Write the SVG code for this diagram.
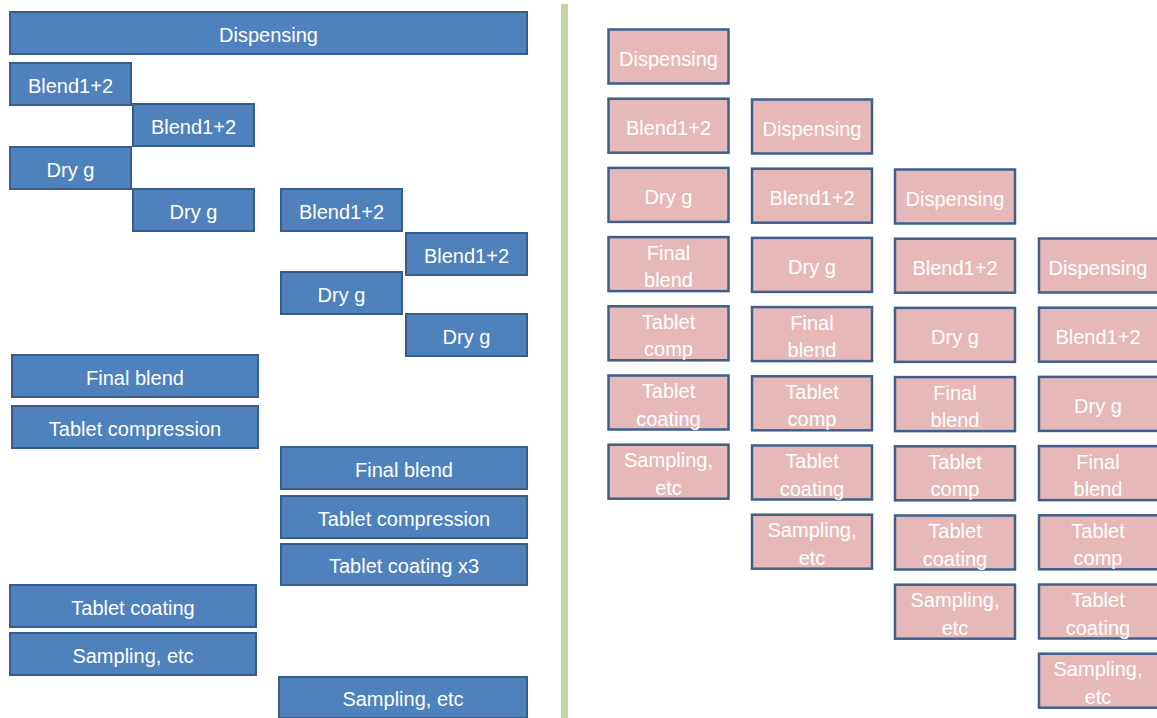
<svg xmlns="http://www.w3.org/2000/svg" width="1157" height="718" viewBox="0 0 1157 718">
<style>
.b{fill:#4F81BD;stroke:#385D8A;stroke-width:2}
.p{fill:#E6B9B8;stroke:#3C5F8E;stroke-width:2.5}
text{font-family:"Liberation Sans",Arial,sans-serif;font-size:20px;fill:#FFFFFF;text-anchor:middle}
</style>
<rect width="1157" height="718" fill="#FFFFFF"/>
<rect x="561" y="4" width="7" height="714" fill="#C3D69B"/>
<g id="left">
<g id="l1"><rect class="b" x="10" y="12" width="517" height="42"/><text x="268.5" y="41.5">Dispensing</text></g>
<g id="l2"><rect class="b" x="10" y="63" width="121" height="42"/><text x="70.5" y="92.5">Blend1+2</text></g>
<g id="l3"><rect class="b" x="133" y="104" width="121" height="42"/><text x="193.5" y="133.5">Blend1+2</text></g>
<g id="l4"><rect class="b" x="10" y="147" width="121" height="42"/><text x="70.5" y="176.5">Dry g</text></g>
<g id="l5"><rect class="b" x="133" y="189" width="121" height="42"/><text x="193.5" y="218.5">Dry g</text></g>
<g id="l6"><rect class="b" x="281" y="189" width="121" height="42"/><text x="341.5" y="218.5">Blend1+2</text></g>
<g id="l7"><rect class="b" x="406" y="233" width="121" height="42"/><text x="466.5" y="262.5">Blend1+2</text></g>
<g id="l8"><rect class="b" x="281" y="272" width="121" height="42"/><text x="341.5" y="301.5">Dry g</text></g>
<g id="l9"><rect class="b" x="406" y="314" width="121" height="42"/><text x="466.5" y="343.5">Dry g</text></g>
<g id="l10"><rect class="b" x="12" y="355" width="246" height="42"/><text x="135" y="384.5">Final blend</text></g>
<g id="l11"><rect class="b" x="12" y="406" width="246" height="42"/><text x="135" y="435.5">Tablet compression</text></g>
<g id="l12"><rect class="b" x="281" y="447" width="246" height="42"/><text x="404" y="476.5">Final blend</text></g>
<g id="l13"><rect class="b" x="281" y="496" width="246" height="42"/><text x="404" y="525.5">Tablet compression</text></g>
<g id="l14"><rect class="b" x="281" y="544" width="246" height="41"/><text x="404" y="573">Tablet coating x3</text></g>
<g id="l15"><rect class="b" x="10" y="585" width="246" height="42"/><text x="133" y="614.5">Tablet coating</text></g>
<g id="l16"><rect class="b" x="10" y="633" width="246" height="42"/><text x="133" y="662.5">Sampling, etc</text></g>
<g id="l17"><rect class="b" x="279" y="677" width="248" height="41"/><text x="403" y="706">Sampling, etc</text></g>
</g>
<g id="right">
<g id="c1">
<g id="c1r1"><rect class="p" x="608.5" y="29.5" width="120" height="54"/><text x="668.5" y="65.5">Dispensing</text></g>
<g id="c1r2"><rect class="p" x="608.5" y="98.7" width="120" height="54"/><text x="668.5" y="134.7">Blend1+2</text></g>
<g id="c1r3"><rect class="p" x="608.5" y="167.9" width="120" height="54"/><text x="668.5" y="203.9">Dry g</text></g>
<g id="c1r4"><rect class="p" x="608.5" y="237.1" width="120" height="54"/><text x="668.5" y="259.6">Final</text><text x="668.5" y="287.1">blend</text></g>
<g id="c1r5"><rect class="p" x="608.5" y="306.3" width="120" height="54"/><text x="668.5" y="328.8">Tablet</text><text x="668.5" y="356.3">comp</text></g>
<g id="c1r6"><rect class="p" x="608.5" y="375.5" width="120" height="54"/><text x="668.5" y="398">Tablet</text><text x="668.5" y="425.5">coating</text></g>
<g id="c1r7"><rect class="p" x="608.5" y="444.7" width="120" height="54"/><text x="668.5" y="467.2">Sampling,</text><text x="668.5" y="494.7">etc</text></g>
</g>
<g id="c2">
<g id="c2r1"><rect class="p" x="752" y="99.5" width="120" height="54"/><text x="812" y="135.5">Dispensing</text></g>
<g id="c2r2"><rect class="p" x="752" y="168.7" width="120" height="54"/><text x="812" y="204.7">Blend1+2</text></g>
<g id="c2r3"><rect class="p" x="752" y="237.9" width="120" height="54"/><text x="812" y="273.9">Dry g</text></g>
<g id="c2r4"><rect class="p" x="752" y="307.1" width="120" height="54"/><text x="812" y="329.6">Final</text><text x="812" y="357.1">blend</text></g>
<g id="c2r5"><rect class="p" x="752" y="376.3" width="120" height="54"/><text x="812" y="398.8">Tablet</text><text x="812" y="426.3">comp</text></g>
<g id="c2r6"><rect class="p" x="752" y="445.5" width="120" height="54"/><text x="812" y="468">Tablet</text><text x="812" y="495.5">coating</text></g>
<g id="c2r7"><rect class="p" x="752" y="514.7" width="120" height="54"/><text x="812" y="537.2">Sampling,</text><text x="812" y="564.7">etc</text></g>
</g>
<g id="c3">
<g id="c3r1"><rect class="p" x="895" y="169.5" width="120" height="54"/><text x="955" y="205.5">Dispensing</text></g>
<g id="c3r2"><rect class="p" x="895" y="238.7" width="120" height="54"/><text x="955" y="274.7">Blend1+2</text></g>
<g id="c3r3"><rect class="p" x="895" y="307.9" width="120" height="54"/><text x="955" y="343.9">Dry g</text></g>
<g id="c3r4"><rect class="p" x="895" y="377.1" width="120" height="54"/><text x="955" y="399.6">Final</text><text x="955" y="427.1">blend</text></g>
<g id="c3r5"><rect class="p" x="895" y="446.3" width="120" height="54"/><text x="955" y="468.8">Tablet</text><text x="955" y="496.3">comp</text></g>
<g id="c3r6"><rect class="p" x="895" y="515.5" width="120" height="54"/><text x="955" y="538">Tablet</text><text x="955" y="565.5">coating</text></g>
<g id="c3r7"><rect class="p" x="895" y="584.7" width="120" height="54"/><text x="955" y="607.2">Sampling,</text><text x="955" y="634.7">etc</text></g>
</g>
<g id="c4">
<g id="c4r1"><rect class="p" x="1039" y="238.5" width="120" height="54"/><text x="1098" y="274.5">Dispensing</text></g>
<g id="c4r2"><rect class="p" x="1039" y="307.7" width="120" height="54"/><text x="1098" y="343.7">Blend1+2</text></g>
<g id="c4r3"><rect class="p" x="1039" y="376.9" width="120" height="54"/><text x="1098" y="412.9">Dry g</text></g>
<g id="c4r4"><rect class="p" x="1039" y="446.1" width="120" height="54"/><text x="1098" y="468.6">Final</text><text x="1098" y="496.1">blend</text></g>
<g id="c4r5"><rect class="p" x="1039" y="515.3" width="120" height="54"/><text x="1098" y="537.8">Tablet</text><text x="1098" y="565.3">comp</text></g>
<g id="c4r6"><rect class="p" x="1039" y="584.5" width="120" height="54"/><text x="1098" y="607">Tablet</text><text x="1098" y="634.5">coating</text></g>
<g id="c4r7"><rect class="p" x="1039" y="653.7" width="120" height="54"/><text x="1098" y="676.2">Sampling,</text><text x="1098" y="703.7">etc</text></g>
</g>
</g>
<g id="connectors"/>
</svg>
